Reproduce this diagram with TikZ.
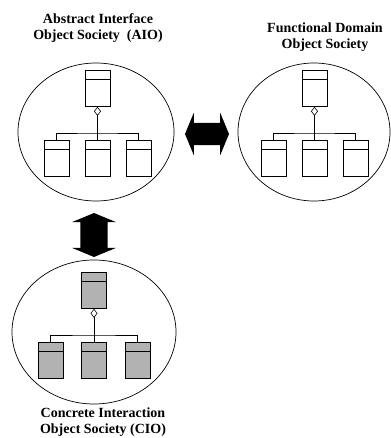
\documentclass[tikz,border=0pt]{standalone}
\usepackage{fontspec}
\setmainfont{Liberation Serif}
\usepackage{tikz}
\usetikzlibrary{positioning, shapes.geometric, shapes.arrows, arrows.meta}

\begin{document}
\begin{tikzpicture}[x = 1pt, y = -1pt,
    society/.style = { draw, shape = ellipse, line width = .7pt, inner sep = 0 },
    classbox/.style = { draw, rectangle, line width = .6pt, inner sep = 0,
      minimum width = 25pt, minimum height = 36pt,
      path picture = { \draw ([yshift = -9pt]path picture bounding box.north west)
        -- ([yshift = -9pt]path picture bounding box.north east); } },
    title/.style = { align = center, inner sep = 0, font = \bfseries\fontsize{14}{16.5}\selectfont },
    bigarrow/.style = { shape = double arrow, fill = black, inner sep = 0,
      double arrow tip angle = 135 }]
    \useasboundingbox (0,0) rectangle (390,438);

    % the three societies
    \node [society, minimum width = 156pt, minimum height = 138pt] (aio) at (96,132) {};
    \node [society, minimum width = 152pt, minimum height = 138pt] (fdo) at (314,132) {};
    \node [society, minimum width = 164pt, minimum height = 144pt] (cio) at (94,332) {};

    \node [title] (aiotitle) at (98,28) { Abstract Interface \\ Object Society~~(AIO) };
    \node [title] (fdotitle) at (325,37) { Functional Domain \\ Object Society };
    \node [title] (ciotitle) at (103,422) { Concrete Interaction \\ Object Society (CIO) };

    % class trees
    \foreach \s/\cx/\ty/\sp/\col in {aio/97.5/88.5/41/white, fdo/314.5/88.5/41/white,
                                      cio/94/290.5/43.5/black!30} {
      \node [classbox, fill = \col] (\s0) at (\cx,\ty) {};
      \node [classbox, fill = \col] (\s1) at (\cx-\sp,\ty+70) {};
      \node [classbox, fill = \col] (\s2) at (\cx,\ty+70) {};
      \node [classbox, fill = \col] (\s3) at (\cx+\sp,\ty+70) {};
      \coordinate (\s bar) at (\cx,\ty+44.5);
      \draw [line width = .6pt, {Diamond[open, length = 9pt, width = 7pt]}-] (\s0.south) -- (\s bar);
      \draw [line width = .6pt] (\s1.north) |- (\s bar) -| (\s3.north);
      \draw [line width = .6pt] (\s2.north) -- (\s bar);
    }

    % exchanges between societies
    \node [bigarrow, text height = 11pt, text depth = 11pt, double arrow head extend = 10pt,
      minimum height = 44pt] (aiofdo) at (207,134) {};
    \node [bigarrow, text height = 13.5pt, text depth = 13.5pt, double arrow head extend = 8.5pt,
      minimum height = 44pt, rotate = 90] (aiocio) at (94,235) {};
\end{tikzpicture}
\end{document}
